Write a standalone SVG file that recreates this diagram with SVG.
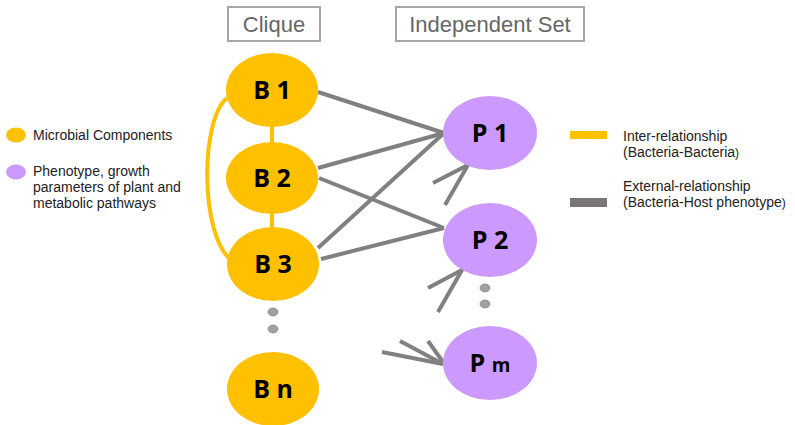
<svg xmlns="http://www.w3.org/2000/svg" width="795" height="425" viewBox="0 0 795 425">
  <defs>
    <style>
      .bact { fill: #FFC000; }
      .phen { fill: #CC99FF; }
      .lbl { font-family: "Open Sans", "DejaVu Sans", sans-serif; font-weight: bold; font-size: 25px; fill: #000; text-anchor: middle; }
      .head { font-family: "Liberation Sans", Arial, sans-serif; font-size: 22px; fill: #666; text-anchor: middle; }
      .headbox { fill: #fff; stroke: #A6A6A6; stroke-width: 2; }
      .leg { font-family: "Liberation Sans", Arial, sans-serif; font-size: 14px; fill: #222; }
      .inter { stroke: #FFC000; stroke-width: 4; fill: none; }
      .ext { stroke: #808080; stroke-width: 4; fill: none; stroke-linecap: butt; }
      .dot { fill: #A0A0A0; stroke: #8A8A8A; stroke-width: 0.8; }
    </style>
  </defs>

  <!-- column headings -->
  <g id="heading-clique">
    <rect class="headbox" x="228" y="7" width="92" height="34"/>
    <text class="head" x="274" y="32">Clique</text>
  </g>
  <g id="heading-independent">
    <rect class="headbox" x="396" y="7" width="188" height="34"/>
    <text class="head" x="490" y="32">Independent Set</text>
  </g>

  <!-- connectors -->
  <g id="connectors">
    <!-- bacteria-bacteria links -->
    <path class="inter" d="M227,98 C200,120 200,235 231,260" stroke-width="3"/>
    <line class="inter" x1="272" y1="126" x2="272" y2="144" stroke-width="5"/>
    <line class="inter" x1="272" y1="212" x2="272" y2="229" stroke-width="5"/>
    <!-- bacteria-phenotype links -->
    <line class="ext" x1="318" y1="92" x2="444" y2="133"/>
    <line class="ext" x1="318" y1="168" x2="444" y2="133"/>
    <line class="ext" x1="319" y1="178" x2="444" y2="228"/>
    <line class="ext" x1="318" y1="248" x2="444" y2="133"/>
    <line class="ext" x1="321" y1="259" x2="444" y2="228"/>
    <!-- incoming links from elided nodes -->
    <polyline class="ext" points="433,183 468,165 445,205"/>
    <polyline class="ext" points="428,288 462,270 438,312"/>
    <line class="ext" x1="382" y1="352" x2="443" y2="364"/>
    <line class="ext" x1="400" y1="341" x2="443" y2="364"/>
    <line class="ext" x1="428" y1="341" x2="443" y2="362"/>
  </g>

  <!-- bacteria nodes -->
  <g id="B1">
    <ellipse class="bact" cx="272" cy="90" rx="46" ry="37"/>
    <text class="lbl" x="272" y="99">B 1</text>
  </g>
  <g id="B2">
    <ellipse class="bact" cx="272" cy="178" rx="46" ry="36"/>
    <text class="lbl" x="272" y="187">B 2</text>
  </g>
  <g id="B3">
    <ellipse class="bact" cx="273" cy="264" rx="46" ry="37"/>
    <text class="lbl" x="273" y="273">B 3</text>
  </g>
  <g id="B-ellipsis">
    <ellipse class="dot" cx="273" cy="312" rx="5" ry="4"/>
    <ellipse class="dot" cx="273" cy="329" rx="5" ry="4"/>
  </g>
  <g id="Bn">
    <ellipse class="bact" cx="273" cy="389" rx="46" ry="37"/>
    <text class="lbl" x="273" y="398">B n</text>
  </g>

  <!-- phenotype nodes -->
  <g id="P1">
    <ellipse class="phen" cx="490" cy="133" rx="47" ry="37"/>
    <text class="lbl" x="490" y="142">P 1</text>
  </g>
  <g id="P2">
    <ellipse class="phen" cx="490" cy="240" rx="47" ry="37"/>
    <text class="lbl" x="490" y="249">P 2</text>
  </g>
  <g id="P-ellipsis">
    <ellipse class="dot" cx="485" cy="288" rx="5" ry="4"/>
    <ellipse class="dot" cx="485" cy="304" rx="5" ry="4"/>
  </g>
  <g id="Pm">
    <ellipse class="phen" cx="490" cy="363" rx="47" ry="37"/>
    <text class="lbl" x="490" y="372">P <tspan font-size="19">m</tspan></text>
  </g>

  <!-- node legend -->
  <g id="legend-nodes">
    <ellipse class="bact" cx="16" cy="135" rx="10" ry="7.5"/>
    <text class="leg" x="33" y="140">Microbial Components</text>
    <ellipse class="phen" cx="16" cy="172" rx="10" ry="7.5"/>
    <text class="leg" x="33" y="176">Phenotype, growth</text>
    <text class="leg" x="33" y="192">parameters of plant and</text>
    <text class="leg" x="33" y="208">metabolic pathways</text>
  </g>

  <!-- edge legend -->
  <g id="legend-edges">
    <rect x="570" y="131" width="37" height="8" fill="#FFC000"/>
    <text class="leg" x="623" y="141">Inter-relationship</text>
    <text class="leg" x="623" y="157">(Bacteria-Bacteria<tspan font-size="12">)</tspan></text>
    <rect x="570" y="198" width="37" height="9" fill="#7A7676"/>
    <text class="leg" x="623" y="191">External-relationship</text>
    <text class="leg" x="623" y="207">(Bacteria-Host phenotype<tspan font-size="12">)</tspan></text>
  </g>
</svg>
